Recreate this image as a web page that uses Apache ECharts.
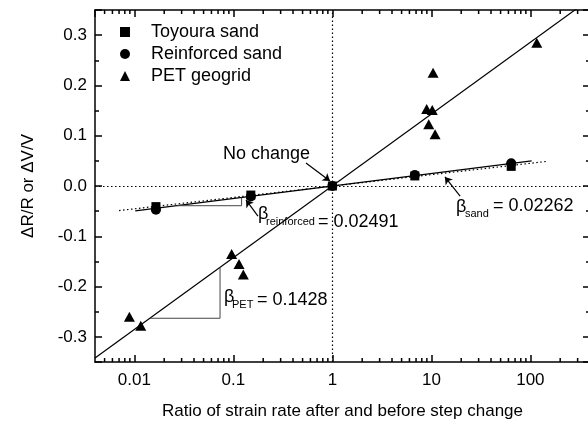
<!DOCTYPE html>
<html>
<head>
<meta charset="utf-8">
<script src="https://cdn.jsdelivr.net/npm/echarts@6/dist/echarts.min.js"></script>
<style>
  html, body { margin: 0; padding: 0; background: #fff; }
  #chart1 { width: 588px; height: 425px; }
</style>
</head>
<body>
<div id="chart1"></div>
<script>
// data
var toyouraSand = [[0.0165, -0.041], [0.15, -0.018], [1, 0], [6.8, 0.020], [64, 0.039]];
var reinforcedSand = [[0.0165, -0.047], [0.15, -0.021], [1, 0], [6.8, 0.022], [64, 0.045]];
var petGeogrid = [[0.0089, -0.26], [0.0116, -0.278], [0.096, -0.135], [0.114, -0.155], [0.126, -0.176],
    [8.96, 0.153], [9.4, 0.123], [10.2, 0.151], [10.4, 0.225], [10.9, 0.103], [116, 0.285]];

// fitted lines and slope triangles
var petFit = [[0.004, -0.342], [300, 0.354]];
var reinforcedFit = [[0.0102, -0.0496], [103, 0.0501]];
var sandFit = [[0.007, -0.0489], [146, 0.0489]];
var reinforcedSlope = [[0.0267, -0.0392], [0.121, -0.0392], [0.121, -0.0228]];
var petSlope = [[0.0144, -0.263], [0.0733, -0.263], [0.0733, -0.162]];

var xMinorTicks = [0.005, 0.006, 0.007, 0.008, 0.009,
    0.02, 0.03, 0.04, 0.05, 0.06, 0.07, 0.08, 0.09,
    0.2, 0.3, 0.4, 0.5, 0.6, 0.7, 0.8, 0.9,
    2, 3, 4, 5, 6, 7, 8, 9,
    20, 30, 40, 50, 60, 70, 80, 90,
    200, 300];

var xMin = 0.004, xMax = 400, yMin = -0.35, yMax = 0.35;
var FONT = 'Liberation Sans, Arial, sans-serif';

var dom = document.getElementById("chart1");
var myChart = echarts.init(dom);

var axisLine = {onZero: false, lineStyle: {color: '#000', width: 1.5}};

function xAx(pos, labels) {
    return {
        type: 'log', logBase: 10, min: xMin, max: xMax, position: pos,
        name: labels ? 'Ratio of strain rate after and before step change' : '',
        nameLocation: 'middle', nameGap: 41,
        nameTextStyle: {fontFamily: FONT, fontSize: 17, color: '#000'},
        axisLine: axisLine,
        axisTick: {show: true, inside: true, length: 7, lineStyle: {color: '#000', width: 1.5}},
        axisLabel: {show: labels, margin: 10, showMinLabel: false, showMaxLabel: false,
            fontFamily: FONT, fontSize: 17, color: '#000'},
        minorTick: {show: false},
        splitLine: {show: false}
    };
}

function yAx(pos, labels) {
    return {
        type: 'value', min: yMin, max: yMax, position: pos,
        name: labels ? 'ΔR/R or ΔV/V' : '',
        nameLocation: 'middle', nameGap: 58,
        nameTextStyle: {fontFamily: FONT, fontSize: 17, color: '#000'},
        axisLine: axisLine,
        axisTick: {show: true, inside: true, length: 7, lineStyle: {color: '#000', width: 1.5}},
        minorTick: {show: true, splitNumber: 2, length: 4, lineStyle: {color: '#000', width: 1.5}},
        axisLabel: {show: labels, margin: 8, showMinLabel: false, showMaxLabel: false,
            fontFamily: FONT, fontSize: 17, color: '#000',
            formatter: function (v) { return v.toFixed(1); }},
        splitLine: {show: false}
    };
}

function fitLine(name, data, type, width) {
    return {
        name: name, type: 'line', data: data, symbol: 'none', silent: true, z: 2,
        lineStyle: {color: '#000', width: width, type: type}
    };
}

function arrow(from, to, curve) {
    return [{coord: from, lineStyle: {curveness: curve}}, {coord: to}];
}

function text(x, y, str, size) {
    var s = {text: str, x: x, y: y, fontFamily: FONT, fontSize: size, fill: '#000',
        textAlign: 'left', textVerticalAlign: 'middle'};
    return {type: 'text', z: 100, style: s};
}

option = {
    animation: false,
    backgroundColor: '#fff',
    grid: {left: 95, right: -2, top: 10, bottom: 63, outerBoundsMode: 'none'},
    legend: {
        orient: 'vertical', left: 120, top: 23, padding: 0,
        itemWidth: 10, itemHeight: 10, itemGap: 4,
        textStyle: {fontFamily: FONT, fontSize: 18, color: '#000', padding: [0, 0, 0, 16]},
        data: ['Toyoura sand', 'Reinforced sand', 'PET geogrid']
    },
    xAxis: [xAx('bottom', true), xAx('top', false)],
    yAxis: [yAx('left', true), yAx('right', false)],
    series: [
        {
            name: 'ref', type: 'line', data: [], silent: true,
            markLine: {
                silent: true, symbol: 'none', animation: false,
                label: {show: false},
                lineStyle: {color: '#000', width: 1.2, type: [1.5, 2.5]},
                data: [{xAxis: 1}, {yAxis: 0}]
            }
        },
        {
            name: 'arrows', type: 'line', data: [], silent: true,
            markLine: {
                silent: true, symbol: ['none', 'arrow'], symbolSize: 7, animation: false,
                label: {show: false},
                lineStyle: {color: '#000', width: 1.2, type: 'solid'},
                data: [
                    arrow([0.541, 0.0457], [0.946, 0.0099], 0),
                    arrow([0.177, -0.0597], [0.134, -0.0278], -0.3),
                    arrow([19.5, -0.0199], [13.7, 0.0179], -0.3)
                ]
            }
        },
        fitLine('petFit', petFit, 'solid', 1.2),
        fitLine('reinforcedFit', reinforcedFit, 'solid', 1.2),
        fitLine('sandFit', sandFit, [1.5, 2.5], 1.2),
        {
            name: 'reinforcedSlope', type: 'line', data: reinforcedSlope, symbol: 'none', silent: true,
            lineStyle: {color: '#444', width: 1}
        },
        {
            name: 'petSlope', type: 'line', data: petSlope, symbol: 'none', silent: true,
            lineStyle: {color: '#444', width: 1}
        },
        {
            name: 'Toyoura sand', type: 'scatter', data: toyouraSand, symbol: 'rect', symbolSize: 9,
            itemStyle: {color: '#000', opacity: 1}, z: 5
        },
        {
            name: 'Reinforced sand', type: 'scatter', data: reinforcedSand, symbol: 'circle', symbolSize: 10,
            itemStyle: {color: '#000', opacity: 1}, z: 5
        },
        {
            name: 'PET geogrid', type: 'scatter', data: petGeogrid, symbol: 'triangle', symbolSize: [11, 10],
            itemStyle: {color: '#000', opacity: 1}, z: 5
        },
        {
            name: 'minorTicks', type: 'custom', silent: true, clip: false, z: 10,
            data: xMinorTicks.map(function (v) { return [v, 0]; }),
            encode: {x: 0, y: 1},
            renderItem: function (params, api) {
                var x = api.coord([api.value(0), 0])[0];
                var yb = api.coord([1, yMin])[1];
                var yt = api.coord([1, yMax])[1];
                var st = {stroke: '#000', lineWidth: 1.5};
                return {
                    type: 'group', children: [
                        {type: 'line', shape: {x1: x, y1: yb, x2: x, y2: yb - 4}, style: st},
                        {type: 'line', shape: {x1: x, y1: yt, x2: x, y2: yt + 4}, style: st}
                    ]
                };
            }
        }
    ],
    graphic: [
        text(223, 154, 'No change', 18),
        text(258, 214, 'β', 18),
        text(266, 222, 'reinforced', 11),
        text(318, 222, '= 0.02491', 18),
        text(456, 207, 'β', 18),
        text(465, 214, 'sand', 11),
        text(493, 206, '= 0.02262', 18),
        text(224, 297, 'β', 18),
        text(232, 305, 'PET', 11),
        text(257, 300, '= 0.1428', 18)
    ]
};

if (option && typeof option === "object") {
    myChart.setOption(option, true);
}
</script>
</body>
</html>
